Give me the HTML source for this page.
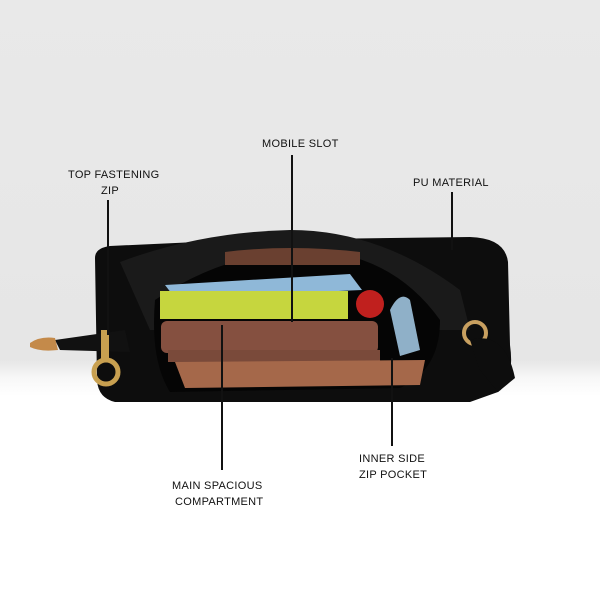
<!DOCTYPE html>
<html><head><style>
body{margin:0;width:600px;height:600px;overflow:hidden;background:#fff}
svg{display:block}
text{font-family:"Liberation Sans",sans-serif;font-size:11px;fill:#111;letter-spacing:0.3px}
</style></head><body>
<svg width="600" height="600" viewBox="0 0 600 600">
<defs>
<linearGradient id="bg" x1="0" y1="0" x2="0" y2="1">
<stop offset="0" stop-color="#e9e9e9"/><stop offset="0.6" stop-color="#e6e6e6"/><stop offset="0.63" stop-color="#f7f7f7"/><stop offset="0.66" stop-color="#fff"/>
</linearGradient>
</defs>
<rect width="600" height="600" fill="url(#bg)"/>
<!-- bag body -->
<path d="M95 258 Q95 248 110 246 L240 240 L470 237 Q505 238 508 262 L510 345 Q515 380 498 392 L470 402 L115 402 Q98 398 97 380 Z" fill="#0d0d0d"/>
<path d="M120 262 Q200 232 290 230 Q380 230 460 290 L470 330 L150 330 Z" fill="#1a1a1a"/>
<!-- interior -->
<path d="M155 300 Q220 255 300 250 Q390 250 440 320 Q440 370 400 388 L170 392 Q150 360 155 300 Z" fill="#050505"/>
<path d="M225 252 Q290 244 360 252 L360 265 L225 265 Z" fill="#6a4030"/>
<!-- phone -->
<path d="M165 285 L350 274 L362 290 L175 298 Z" fill="#8fb8d8"/>
<rect x="160" y="291" width="188" height="28" fill="#c6d63e"/>
<circle cx="370" cy="304" r="14" fill="#c0201e"/>
<!-- wallet -->
<rect x="161" y="321" width="217" height="32" rx="6" fill="#855040"/>
<rect x="168" y="350" width="212" height="12" fill="#7a4a3a"/>
<path d="M175 362 L425 360 L420 385 L185 388 Z" fill="#a5684a"/>
<path d="M390 310 Q400 290 410 300 L420 350 L400 356 Z" fill="#8fb0c8"/>
<!-- zip left -->
<path d="M55 340 L125 330 L130 352 L60 350 Z" fill="#111"/>
<path d="M30 343 Q40 336 55 338 L58 350 Q40 352 30 347 Z" fill="#c48a4a"/>
<circle cx="106" cy="372" r="12" fill="none" stroke="#c8a050" stroke-width="5"/>
<rect x="101" y="330" width="8" height="30" fill="#c8a050"/>
<!-- ring right -->
<circle cx="475" cy="333" r="11" fill="none" stroke="#c8a060" stroke-width="4"/>
<path d="M470 340 Q505 330 515 378 L498 392 L480 370 Z" fill="#0d0d0d"/>
<!-- lines -->
<g stroke="#111" stroke-width="2">
<line x1="108" y1="200" x2="108" y2="335"/>
<line x1="292" y1="155" x2="292" y2="322"/>
<line x1="452" y1="192" x2="452" y2="250"/>
<line x1="222" y1="325" x2="222" y2="470"/>
<line x1="392" y1="358" x2="392" y2="446"/>
</g>
<text x="68" y="178">TOP FASTENING</text>
<text x="101" y="194">ZIP</text>
<text x="262" y="147">MOBILE SLOT</text>
<text x="413" y="186">PU MATERIAL</text>
<text x="172" y="489">MAIN SPACIOUS</text>
<text x="175" y="505">COMPARTMENT</text>
<text x="359" y="462">INNER SIDE</text>
<text x="359" y="478">ZIP POCKET</text>
</svg>
</body></html>
